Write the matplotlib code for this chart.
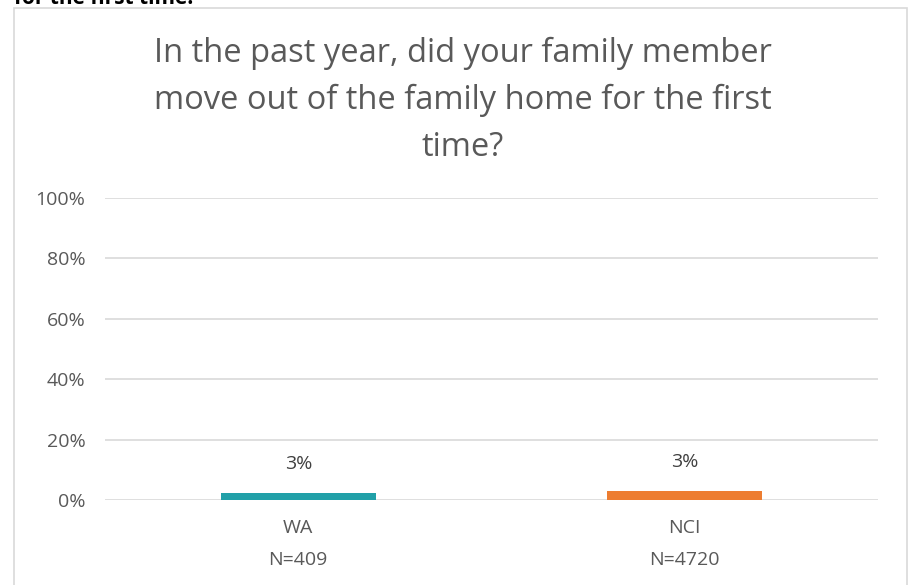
import matplotlib
matplotlib.use("Agg")
import matplotlib.pyplot as plt
from matplotlib.patches import Rectangle

categories = ["WA\nN=409", "NCI\nN=4720"]
values = [2.4, 3.0]
labels = ["3%", "3%"]
colors = ["#21A0A8", "#ED7D31"]
yticks = [0, 20, 40, 60, 80, 100]
ytick_labels = ["0%", "20%", "40%", "60%", "80%", "100%"]
title = "In the past year, did your family member\nmove out of the family home for the first\ntime?"

W, H = 909, 585
plt.rcParams['font.family'] = ['Open Sans', 'DejaVu Sans']
fig = plt.figure(figsize=(W/100, H/100), dpi=100)
fig.patch.set_facecolor("white")

# outer chart border
fig.patches.append(Rectangle((14/W, -0.05), (907-14)/W, (H-8)/H + 0.05,
                             transform=fig.transFigure, fill=False,
                             edgecolor="#D9D9D9", linewidth=1.2))
# cut-off text at top
fig.text(14/W, (H+12)/H, "for the first time.", fontsize=15, fontweight="bold",
         color="#000000", ha="left", va="top")

ax = fig.add_axes([105/W, (H-500)/H, (878-105)/W, (500-198)/H])
x = range(len(categories))
ax.bar(x, values, width=0.4, color=colors, zorder=3)
ax.set_xlim(-0.5, 1.5)
ax.set_ylim(0, 100)
ax.set_yticks(yticks)
ax.set_yticklabels(ytick_labels)
ax.set_xticks(list(x))
ax.set_xticklabels(categories, linespacing=1.95)
for s in ax.spines.values():
    s.set_visible(False)
ax.grid(axis="y", color="#D9D9D9", linewidth=1.2, zorder=0)
ax.tick_params(axis="both", length=0, labelsize=14, colors="#595959")
ax.tick_params(axis="y", pad=14)
ax.tick_params(axis="x", pad=14)
for xi, v, lab in zip(x, values, labels):
    ax.annotate(lab, (xi, v), xytext=(0, 14), textcoords="offset points",
                ha="center", va="bottom", fontsize=14, color="#404040")

fig.text(463/W, (H-37)/H, title, ha="center", va="top", fontsize=23.5,
         color="#595959", linespacing=1.55)

fig.savefig("out.png", dpi=100)
